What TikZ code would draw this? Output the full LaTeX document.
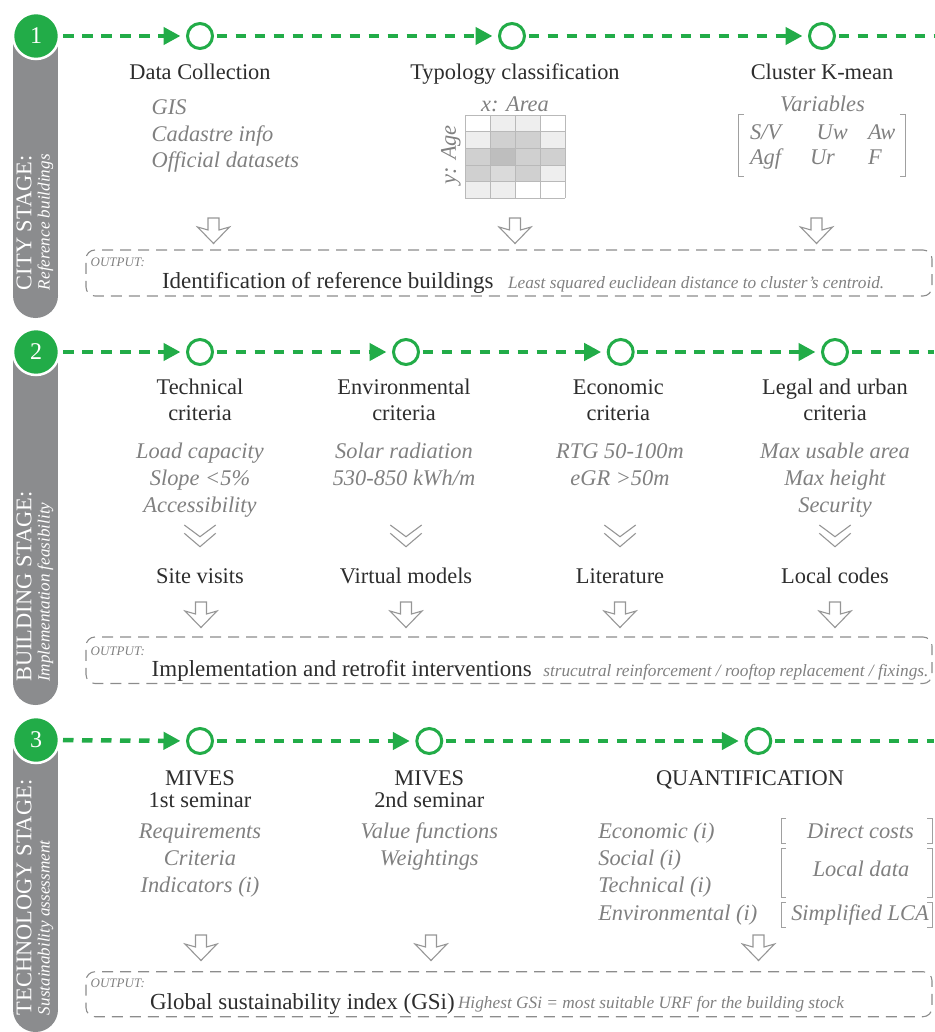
\documentclass[tikz,border=0pt]{standalone}
\usepackage{fontspec}
\setmainfont{Liberation Serif}
\usetikzlibrary{arrows.meta}
\definecolor{grn}{RGB}{34,172,72}
\definecolor{bargray}{RGB}{139,140,142}
\definecolor{titlec}{RGB}{45,45,45}
\definecolor{itc}{RGB}{128,128,128}
\definecolor{boxc}{RGB}{140,140,140}
\definecolor{arrc}{RGB}{150,150,150}
\definecolor{gridc}{RGB}{185,185,185}
\definecolor{brkc}{RGB}{160,160,160}
\definecolor{g0}{RGB}{255,255,255}
\definecolor{g1}{RGB}{238,238,238}
\definecolor{g2}{RGB}{208,208,208}
\definecolor{g2b}{RGB}{218,218,218}
\definecolor{g3}{RGB}{190,190,190}
\begin{document}
\begin{tikzpicture}[x=1pt,y=-1pt,
  every node/.style={inner sep=0pt, outer sep=0pt},
  ttl/.style={font=\fontsize{22.4}{26}\selectfont, text=titlec, anchor=base},
  itm/.style={font=\itshape\fontsize{22.4}{26}\selectfont, text=itc, anchor=base},
  itl/.style={itm, anchor=base west},
  outl/.style={font=\itshape\fontsize{13}{15}\selectfont, text=itc, anchor=base west},
  outm/.style={font=\fontsize{23}{26}\selectfont, text=titlec, anchor=base west},
  outs/.style={font=\itshape\fontsize{17.3}{19}\selectfont, text=itc, anchor=base west},
  sidea/.style={font=\fontsize{22.4}{26}\selectfont, text=white, rotate=90, anchor=west},
  sideb/.style={font=\itshape\fontsize{17.1}{20}\selectfont, text=white, rotate=90, anchor=west},
  numc/.style={circle, fill=grn, draw=white, line width=2.5pt, minimum size=46pt, text=white, font=\fontsize{24}{26}\selectfont},
  openc/.style={circle, draw=grn, line width=3pt, minimum size=25pt, fill=white},
  gline/.style={draw=grn, line width=4.5pt, dash pattern=on 10.5pt off 8.5pt},
  garr/.style={gline, -{Triangle[length=17pt,width=17pt]}, shorten >=7pt, shorten <=4pt},
  gend/.style={gline, shorten <=4pt},
  outbox/.style={draw=boxc, line width=1.1pt, dash pattern=on 11pt off 7pt, rounded corners=9pt, anchor=north west, minimum width=846pt},
  bar/.style={fill=bargray},
  arrline/.style={draw=arrc, line width=1.1pt, line join=miter},
  brk/.style={draw=brkc, line width=1pt},
  harrow/.pic={\path[arrline] (-5.5,0) -- (5.5,0) -- (5.5,12) -- (16,9) -- (0,25.5) -- (-16,9) -- (-5.5,12) -- cycle;},
  chev/.pic={\path[arrline] (-15.7,0) -- (0,11.7) -- (15.7,0) (-15.7,8.3) -- (0,21.7) -- (15.7,8.3);}
]
\useasboundingbox (0,0) rectangle (934,1032);

% ---------- side bars ----------
\fill[bar] (13,36) rectangle (58,295.5);
\fill[bar] (35.5,295.5) circle (22.5);
\fill[bar] (13,352) rectangle (58,682.5);
\fill[bar] (35.5,682.5) circle (22.5);
\fill[bar] (13,741) rectangle (58,1009.5);
\fill[bar] (35.5,1009.5) circle (22.5);

\node[sidea] (s1a) at (24,290) {CITY STAGE:};
\node[sideb] (s1b) at (45.5,290) {Reference buildings};
\node[sidea] (s2a) at (24,681.7) {BUILDING STAGE:};
\node[sideb] (s2b) at (45.5,681.7) {Implementation feasibility};
\node[sidea] (s3a) at (24,1015) {TECHNOLOGY STAGE:};
\node[sideb] (s3b) at (45.5,1015) {Sustainability assessment};

% ================= SECTION 1 =================
\node[numc] (n1) at (36,36) {1};
\node[openc] (c1a) at (200,36) {};
\node[openc] (c1b) at (512,36) {};
\node[openc] (c1c) at (822,36) {};
\coordinate (e1) at (934,36);
\draw[garr] (n1) -- (c1a);
\draw[garr] (c1a) -- (c1b);
\draw[garr] (c1b) -- (c1c);
\draw[gend] (c1c) -- (e1);

\node[ttl] (t1a) at (200,80) {Data Collection};
\node[ttl] (t1b) at (515,80) {Typology classification};
\node[ttl] (t1c) at (822,80) {Cluster K-mean};

\node[itl] (i1a) at (151.7,115) {GIS};
\node[itl] (i1b) at (151.7,141.5) {Cadastre info};
\node[itl] (i1c) at (151.7,168) {Official datasets};

\node[itm] (xarea) at (515,111.7) {x: Area};
\node[itm, rotate=90, anchor=center] (yage) at (451,155) {y: Age};
\foreach \c/\r/\col in {0/0/g0,1/0/g1,2/0/g1,3/0/g0,
                        0/1/g1,1/1/g2,2/1/g2,3/1/g1,
                        0/2/g2,1/2/g3,2/2/g2,3/2/g2,
                        0/3/g2,1/3/g2b,2/3/g2,3/3/g1,
                        0/4/g1,1/4/g1,2/4/g0,3/4/g0}{
  \fill[\col] ({465+25*\c},{115+16.66*\r}) rectangle ({490+25*\c},{131.66+16.66*\r});
}
\foreach \i in {0,...,4}{\draw[gridc, line width=0.9pt] ({465+25*\i},115) -- ({465+25*\i},198.3);}
\foreach \i in {0,...,5}{\draw[gridc, line width=0.9pt] (465,{115+16.66*\i}) -- (565,{115+16.66*\i});}

\node[itm] (vars) at (822.5,111.7) {Variables};
\draw[brk] (743.5,115) -- (738.3,115) -- (738.3,176.7) -- (743.5,176.7);
\draw[brk] (899.8,115) -- (905,115) -- (905,176.7) -- (899.8,176.7);
\node[itl] (m11) at (750,140) {S/V};
\node[itl] (m12) at (816.7,140) {Uw};
\node[itl] (m13) at (868,140) {Aw};
\node[itl] (m21) at (750,165) {Agf};
\node[itl] (m22) at (810,165) {Ur};
\node[itl] (m23) at (868,165) {F};

\pic at (213.5,218) {harrow};
\pic at (515,218) {harrow};
\pic at (816.5,218) {harrow};

\node[outbox, minimum height=46pt] (o1) at (86,250) {};
\node[outl] (o1l) at (90.7,266.7) {OUTPUT:};
\node[outm] (o1m) at (162,288.3) {Identification of reference buildings};
\node[outs] (o1s) at (508,288) {Least squared euclidean distance to cluster’s centroid.};

% ================= SECTION 2 =================
\node[numc] (n2) at (36,352) {2};
\node[openc] (c2a) at (200,352) {};
\node[openc] (c2b) at (406,352) {};
\node[openc] (c2c) at (620.7,352) {};
\node[openc] (c2d) at (835,352) {};
\coordinate (e2) at (934,352);
\draw[garr] (n2) -- (c2a);
\draw[garr] (c2a) -- (c2b);
\draw[garr] (c2b) -- (c2c);
\draw[garr] (c2c) -- (c2d);
\draw[gend] (c2d) -- (e2);

\node[ttl] (t2a1) at (200,394) {Technical};
\node[ttl] (t2a2) at (200,420.7) {criteria};
\node[ttl] (t2b1) at (404,394) {Environmental};
\node[ttl] (t2b2) at (404,420.7) {criteria};
\node[ttl] (t2c1) at (618.3,394) {Economic};
\node[ttl] (t2c2) at (618.3,420.7) {criteria};
\node[ttl] (t2d1) at (835,394) {Legal and urban};
\node[ttl] (t2d2) at (835,420.7) {criteria};

\node[itm] (i2a1) at (200,458) {Load capacity};
\node[itm] (i2a2) at (200,485.7) {Slope <5\%};
\node[itm] (i2a3) at (200,512.7) {Accessibility};
\node[itm] (i2b1) at (404,458) {Solar radiation};
\node[itm] (i2b2) at (404,485.7) {530-850 kWh/m};
\node[itm] (i2c1) at (620,458) {RTG 50-100m};
\node[itm] (i2c2) at (620,485.7) {eGR >50m};
\node[itm] (i2d1) at (835,458) {Max usable area};
\node[itm] (i2d2) at (835,485.7) {Max height};
\node[itm] (i2d3) at (835,512.7) {Security};

\pic at (200,525) {chev};
\pic at (406,525) {chev};
\pic at (620,525) {chev};
\pic at (835,525) {chev};

\node[ttl] (v2a) at (200,583.3) {Site visits};
\node[ttl] (v2b) at (406,583.3) {Virtual models};
\node[ttl] (v2c) at (620,583.3) {Literature};
\node[ttl] (v2d) at (835,583.3) {Local codes};

\pic at (201,602) {harrow};
\pic at (406,602) {harrow};
\pic at (620,602) {harrow};
\pic at (835,602) {harrow};

\node[outbox, minimum height=46.5pt] (o2) at (86,637) {};
\node[outl] (o2l) at (90.7,655) {OUTPUT:};
\node[outm] (o2m) at (151.7,676.5) {Implementation and retrofit interventions};
\node[outs] (o2s) at (543.3,676) {strucutral reinforcement / rooftop replacement / fixings.};

% ================= SECTION 3 =================
\node[numc] (n3) at (36,740) {3};
\node[openc] (c3a) at (200,741) {};
\node[openc] (c3b) at (429.3,741) {};
\node[openc] (c3c) at (758.3,741) {};
\coordinate (e3) at (934,741);
\draw[garr] (n3) -- (c3a);
\draw[garr] (c3a) -- (c3b);
\draw[garr] (c3b) -- (c3c);
\draw[gend] (c3c) -- (e3);

\node[ttl] (t3a1) at (200,785) {MIVES};
\node[ttl] (t3a2) at (200,807) {1st seminar};
\node[ttl] (t3b1) at (429.3,785) {MIVES};
\node[ttl] (t3b2) at (429.3,807) {2nd seminar};
\node[ttl] (t3c) at (750,785) {QUANTIFICATION};

\node[itm] (i3a1) at (200,838) {Requirements};
\node[itm] (i3a2) at (200,865.7) {Criteria};
\node[itm] (i3a3) at (200,892.7) {Indicators (i)};
\node[itm] (i3b1) at (429.3,838) {Value functions};
\node[itm] (i3b2) at (429.3,865.7) {Weightings};

\node[itl] (q1) at (598.3,838) {Economic (i)};
\node[itl] (q2) at (598.3,865.7) {Social (i)};
\node[itl] (q3) at (598.3,892.7) {Technical (i)};
\node[itl] (q4) at (598.3,920) {Environmental (i)};

\foreach \ya/\yb in {818/843, 848/897, 902/927}{
  \draw[brk] (786,\ya) -- (781,\ya) -- (781,\yb) -- (786,\yb);
  \draw[brk] (927,\ya) -- (932,\ya) -- (932,\yb) -- (927,\yb);
}
\node[itm] (b1) at (860.5,838) {Direct costs};
\node[itm] (b2) at (861,876.7) {Local data};
\node[itm] (b3) at (860,920) {Simplified LCA};

\pic at (201,935) {harrow};
\pic at (431,935) {harrow};
\pic at (758.5,935) {harrow};

\node[outbox, minimum height=45pt] (o3) at (86,971.7) {};
\node[outl] (o3l) at (90.7,987) {OUTPUT:};
\node[outm] (o3m) at (150,1009) {Global sustainability index (GSi)};
\node[outs] (o3s) at (458,1008) {Highest GSi = most suitable URF for the building stock};

\end{tikzpicture}
\end{document}
